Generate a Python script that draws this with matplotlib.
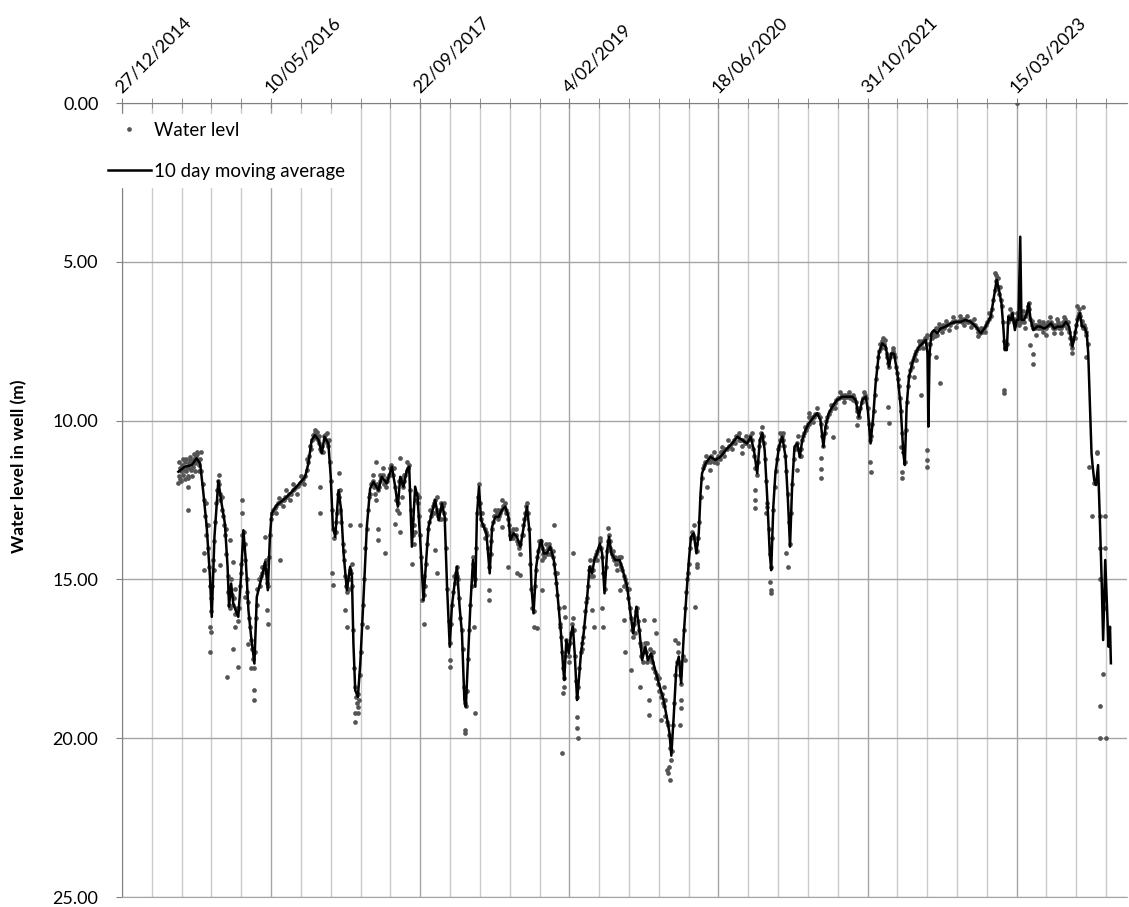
import matplotlib
matplotlib.use("Agg")
import matplotlib.pyplot as plt
from matplotlib.lines import Line2D
import numpy as np

plt.rcParams['font.family'] = ['Lato', 'DejaVu Sans']

# day offsets are counted from the first tick date, 27/12/2014
start = np.datetime64("2014-12-27")

tick_labels = ["27/12/2014", "10/05/2016", "22/09/2017", "4/02/2019",
               "18/06/2020", "31/10/2021", "15/03/2023"]
ytick_values = [0, 5, 10, 15, 20, 25]
ytick_labels = ["0.00", "5.00", "10.00", "15.00", "20.00", "25.00"]

# (day, water level in m) - daily readings
wl_2015 = [
    (190, 11.75), (193, 11.5), (196, 11.85), (199, 11.6), (202, 11.4), (205, 11.7), (208, 11.55), (211, 11.3),
    (214, 11.6), (217, 11.45), (220, 11.75), (223, 11.35), (226, 11.5), (229, 11.25), (232, 11.55), (235, 11.3),
    (238, 11.45), (241, 11.2), (244, 11.35), (247, 11.1), (250, 11.3), (253, 11.05), (256, 11.25), (259, 11.4),
    (262, 11.2), (265, 11.6), (270, 12.0), (274, 12.5), (278, 13.0), (281, 13.6), (285, 13.3), (288, 14.0),
    (291, 14.6), (294, 15.2), (297, 15.6), (300, 16.0), (303, 15.2), (306, 14.4), (309, 13.8), (312, 13.2),
    (315, 12.6), (318, 12.2), (321, 11.9), (324, 12.0), (327, 12.3), (330, 12.5), (334, 12.8), (338, 13.0),
    (342, 13.3), (346, 13.6), (350, 14.2), (354, 14.9), (357, 15.4), (360, 15.8), (363, 15.4), (366, 15.0),
    (369, 15.5), (372, 15.8), (376, 15.6), (380, 16.1), (384, 15.9), (388, 16.3), (392, 15.9), (396, 15.2),
]
wl_2016 = [
    (400, 14.5), (404, 13.6), (408, 13.5), (411, 13.9), (414, 14.4), (418, 15.0), (421, 15.7), (425, 16.2),
    (429, 16.5), (432, 16.9), (436, 17.2), (440, 17.5), (444, 17.8), (447, 17.3), (450, 16.2), (454, 15.3),
    (458, 15.0), (462, 15.2), (466, 14.9), (470, 14.8), (474, 14.6), (478, 14.5), (482, 14.7), (486, 15.1),
    (490, 15.2), (493, 14.3), (496, 13.6), (499, 13.1), (503, 12.9), (507, 12.8), (512, 12.75), (518, 12.7),
    (524, 12.6), (530, 12.6), (536, 12.5), (542, 12.5), (548, 12.4), (554, 12.4), (560, 12.3), (566, 12.3),
    (572, 12.2), (578, 12.15), (584, 12.1), (590, 12.05), (596, 11.95), (602, 11.9), (608, 11.85), (614, 11.75),
    (619, 11.55), (624, 11.3), (628, 11.1), (632, 10.8), (636, 10.6), (640, 10.45), (644, 10.55), (648, 10.4),
    (652, 10.5), (656, 10.6), (660, 10.7), (664, 10.9), (668, 10.95), (672, 10.8), (676, 10.5), (680, 10.45),
    (684, 10.6), (688, 10.7), (692, 10.8), (696, 11.3), (700, 11.9), (704, 12.8), (708, 13.4), (712, 13.7),
    (716, 13.5), (720, 12.9), (724, 12.3), (728, 12.4), (732, 12.8), (736, 13.2), (740, 13.9), (744, 14.4),
    (748, 14.9), (752, 15.2), (756, 15.4), (760, 15.0), (764, 14.7), (768, 14.8), (772, 15.2), (776, 16.6),
    (779, 17.8), (782, 18.4), (785, 18.7), (788, 18.9), (791, 18.6), (794, 18.8), (797, 18.0), (800, 17.3),
    (804, 16.4), (808, 15.8), (812, 15.0), (816, 14.0), (820, 13.4),
]
wl_2017 = [
    (826, 12.8), (830, 12.3), (834, 12.0), (838, 11.95), (842, 11.9), (846, 12.1), (850, 12.3), (854, 12.0),
    (858, 12.2), (862, 12.1), (866, 11.9), (870, 11.8), (874, 11.7), (878, 12.0), (882, 11.9), (886, 12.1),
    (890, 11.9), (894, 11.7), (898, 11.5), (902, 11.4), (906, 11.5), (910, 11.7), (914, 12.1), (918, 12.5),
    (922, 12.8), (926, 12.6), (930, 11.9), (934, 11.8), (938, 12.0), (942, 12.1), (946, 11.9), (950, 11.7),
    (954, 11.6), (958, 11.5), (962, 11.4), (966, 12.2), (969, 12.8), (972, 13.1), (975, 13.6), (978, 13.9),
    (981, 13.5), (985, 12.5), (989, 12.3), (993, 12.6), (997, 13.0), (1000, 13.6), (1004, 14.3), (1008, 15.0),
    (1011, 15.5), (1015, 15.2), (1019, 14.5), (1023, 13.9), (1027, 13.4), (1031, 13.2), (1035, 13.0), (1039, 12.9),
    (1043, 12.7), (1047, 12.6), (1051, 12.5), (1055, 12.8), (1059, 13.0), (1063, 13.1), (1067, 12.8), (1071, 12.6),
    (1075, 12.7), (1079, 12.9), (1083, 13.1), (1087, 14.0), (1091, 15.3), (1095, 16.3), (1099, 17.0), (1103, 16.4),
    (1107, 15.8), (1111, 15.4), (1115, 15.1), (1119, 14.8), (1123, 14.6), (1127, 15.0), (1131, 15.6), (1135, 16.2),
    (1139, 16.6), (1143, 17.2), (1147, 18.4), (1150, 18.9), (1153, 19.0), (1156, 18.5), (1160, 17.5), (1164, 16.6),
    (1168, 15.8), (1172, 15.2), (1176, 14.5), (1180, 14.6), (1184, 15.0), (1188, 14.0), (1191, 12.9), (1194, 12.4),
    (1197, 12.0), (1200, 12.6),
]
wl_2018 = [
    (1204, 13.1), (1208, 13.3), (1212, 13.3), (1216, 13.4), (1220, 13.5), (1224, 13.6), (1228, 14.0), (1232, 14.6),
    (1236, 14.2), (1240, 13.4), (1244, 13.2), (1248, 13.0), (1252, 13.0), (1256, 12.9), (1260, 13.1), (1264, 13.0),
    (1268, 12.9), (1272, 12.8), (1276, 12.7), (1280, 12.7), (1284, 12.6), (1288, 12.8), (1292, 12.9), (1296, 13.1),
    (1300, 13.6), (1304, 13.7), (1308, 13.5), (1312, 13.4), (1316, 13.6), (1320, 13.6), (1324, 13.8), (1328, 13.9),
    (1332, 14.0), (1336, 13.9), (1340, 13.6), (1344, 13.3), (1348, 13.1), (1352, 12.9), (1356, 12.7), (1360, 12.9),
    (1364, 13.4), (1368, 14.5), (1372, 15.3), (1376, 15.9), (1380, 16.0), (1384, 15.2), (1388, 14.7), (1392, 14.3),
    (1396, 14.1), (1400, 13.9), (1404, 13.8), (1408, 14.0), (1412, 14.2), (1416, 14.3), (1420, 14.1), (1424, 14.2),
    (1428, 14.0), (1432, 13.9), (1436, 14.0), (1440, 14.2), (1444, 14.3), (1448, 14.5), (1452, 14.8), (1456, 15.1),
    (1460, 15.5), (1464, 15.9), (1468, 16.4), (1472, 16.8), (1476, 17.3), (1480, 17.8), (1483, 18.1), (1486, 17.4),
    (1490, 16.9), (1494, 17.1), (1498, 17.4), (1502, 17.0), (1506, 16.7), (1510, 16.4), (1514, 16.6), (1518, 17.4),
    (1522, 18.2), (1526, 18.7), (1530, 18.4),
]
wl_2019 = [
    (1534, 17.8), (1538, 17.3), (1542, 17.0), (1546, 16.8), (1550, 16.5), (1554, 16.0), (1558, 15.6), (1562, 15.2),
    (1566, 14.7), (1570, 14.6), (1574, 14.9), (1578, 14.7), (1582, 14.4), (1586, 14.3), (1590, 14.2), (1594, 14.1),
    (1598, 14.0), (1602, 13.8), (1606, 14.0), (1610, 14.3), (1614, 14.8), (1618, 15.3), (1622, 14.6), (1626, 14.1),
    (1630, 13.8), (1634, 13.6), (1638, 14.0), (1642, 14.2), (1646, 14.3), (1650, 14.4), (1654, 14.3), (1658, 14.5),
    (1662, 14.4), (1666, 14.3), (1670, 14.5), (1674, 14.6), (1678, 14.7), (1682, 14.9), (1686, 15.0), (1690, 15.1),
    (1694, 15.3), (1698, 15.6), (1702, 15.9), (1706, 16.2), (1710, 16.6), (1714, 16.8), (1718, 16.4), (1722, 16.0),
    (1726, 15.9), (1730, 16.3), (1734, 16.6), (1738, 17.0), (1742, 17.4), (1746, 17.6), (1750, 17.2), (1754, 17.0),
    (1758, 17.3), (1762, 17.6), (1766, 17.5), (1770, 17.2), (1774, 17.4), (1778, 17.6), (1782, 17.8), (1786, 17.9),
    (1790, 18.1), (1794, 18.0), (1798, 18.3), (1802, 18.5), (1806, 18.7), (1810, 18.6), (1814, 18.9), (1818, 19.0),
    (1822, 19.3), (1826, 19.5), (1830, 19.6), (1834, 19.9), (1838, 20.3), (1841, 20.7), (1844, 20.4), (1848, 19.6),
    (1852, 18.9), (1856, 18.0), (1860, 17.6), (1864, 17.3), (1868, 17.6), (1872, 18.0), (1876, 18.3), (1880, 17.4),
    (1884, 16.6), (1888, 15.9), (1892, 15.4), (1896, 15.0), (1900, 14.5), (1904, 14.0), (1908, 13.7), (1912, 13.5),
    (1916, 13.6), (1920, 13.7), (1924, 13.9), (1928, 14.1), (1932, 13.7), (1936, 13.2), (1940, 12.4), (1944, 11.8),
    (1948, 11.5), (1952, 11.4), (1956, 11.3),
]
wl_2020 = [
    (1962, 11.3), (1968, 11.2), (1974, 11.1), (1980, 11.2), (1986, 11.3), (1992, 11.2), (1998, 11.1), (2004, 11.2),
    (2010, 11.0), (2016, 11.0), (2022, 10.9), (2028, 10.9), (2034, 10.8), (2040, 10.8), (2046, 10.7), (2052, 10.6),
    (2058, 10.5), (2064, 10.5), (2070, 10.6), (2076, 10.6), (2082, 10.6), (2088, 10.7), (2094, 10.7), (2100, 10.6),
    (2106, 10.5), (2112, 10.6), (2116, 10.9), (2120, 11.1), (2124, 11.5), (2128, 11.7), (2132, 11.3), (2136, 10.8),
    (2140, 10.6), (2144, 10.4), (2148, 10.5), (2152, 10.7), (2156, 11.2), (2160, 11.9), (2164, 12.6), (2168, 13.4),
    (2172, 14.2), (2176, 14.6), (2180, 13.7), (2184, 12.8), (2188, 12.1), (2192, 11.6), (2196, 11.2), (2200, 10.9),
    (2204, 10.8), (2208, 10.6), (2212, 10.5), (2216, 10.6), (2220, 10.8), (2224, 11.1), (2228, 11.6), (2232, 12.3),
    (2236, 13.2), (2240, 13.9), (2244, 12.9), (2248, 12.0), (2252, 11.2), (2256, 10.9), (2260, 10.8), (2264, 10.7),
    (2268, 10.9), (2272, 11.1), (2276, 10.9), (2280, 10.6), (2284, 10.5), (2288, 10.4), (2292, 10.3), (2296, 10.2),
    (2300, 10.1), (2305, 10.1), (2310, 10.0), (2315, 9.9), (2320, 9.9), (2325, 9.8), (2330, 9.8), (2335, 9.8),
    (2340, 9.9), (2344, 10.1), (2348, 10.5), (2352, 10.8), (2356, 10.4), (2360, 10.2),
]
wl_2021 = [
    (2365, 9.9), (2370, 9.8), (2375, 9.7), (2380, 9.6), (2385, 9.5), (2390, 9.45), (2395, 9.35), (2400, 9.3),
    (2405, 9.3), (2410, 9.25), (2415, 9.2), (2420, 9.3), (2425, 9.2), (2430, 9.25), (2435, 9.2), (2440, 9.3),
    (2445, 9.25), (2450, 9.2), (2455, 9.3), (2460, 9.4), (2464, 9.6), (2468, 9.9), (2472, 9.9), (2476, 9.6),
    (2480, 9.4), (2485, 9.3), (2490, 9.2), (2495, 9.3), (2500, 9.6), (2504, 10.1), (2508, 10.6), (2512, 10.5),
    (2516, 10.1), (2520, 9.7), (2524, 9.2), (2528, 8.7), (2532, 8.3), (2536, 8.0), (2540, 7.8), (2544, 7.7),
    (2548, 7.5), (2552, 7.6), (2556, 7.6), (2560, 7.7), (2564, 7.9), (2568, 8.2), (2572, 8.3), (2576, 8.0),
    (2580, 7.9), (2584, 7.8), (2588, 7.9), (2592, 8.0), (2596, 8.3), (2600, 8.5), (2604, 8.9), (2608, 9.3),
    (2612, 9.7), (2616, 10.4), (2620, 11.0), (2624, 11.3), (2628, 10.3), (2632, 9.4), (2636, 8.9), (2640, 8.6),
    (2644, 8.4), (2648, 8.3), (2652, 8.1), (2656, 8.0), (2660, 7.9), (2664, 7.8), (2668, 7.7), (2672, 7.7),
    (2676, 7.6), (2680, 7.6), (2684, 7.5), (2688, 7.5), (2692, 7.4), (2696, 7.4), (2700, 7.6), (2706, 7.9),
    (2710, 7.6), (2714, 7.3), (2718, 7.2),
]
wl_2022 = [
    (2722, 7.2), (2728, 7.1), (2734, 7.3), (2740, 7.1), (2746, 7.1), (2752, 7.0), (2758, 7.1), (2764, 7.0),
    (2770, 6.95), (2776, 7.0), (2782, 6.9), (2788, 6.9), (2794, 6.85), (2800, 6.9), (2806, 6.85), (2812, 6.8),
    (2818, 6.9), (2824, 6.8), (2830, 6.85), (2836, 6.9), (2842, 6.85), (2848, 6.9), (2854, 6.95), (2860, 7.0),
    (2866, 7.1), (2872, 7.2), (2878, 7.25), (2884, 7.2), (2890, 7.1), (2896, 7.0), (2902, 6.9), (2908, 6.8),
    (2914, 6.7), (2918, 6.5), (2922, 6.2), (2926, 5.9), (2930, 5.6), (2934, 5.5), (2938, 5.8), (2942, 6.0),
    (2946, 6.2), (2950, 6.4), (2954, 6.9), (2958, 7.5), (2962, 7.7), (2966, 7.6), (2970, 6.9), (2974, 6.7),
    (2978, 6.8), (2982, 6.7), (2986, 6.6), (2990, 6.9), (2994, 7.0), (2998, 6.8), (3002, 6.9), (3006, 6.7),
    (3010, 6.8),
]
wl_2023 = [
    (3014, 6.9), (3018, 6.8), (3022, 6.7), (3026, 6.9), (3030, 6.7), (3034, 6.6), (3038, 6.4), (3042, 6.5),
    (3046, 6.8), (3050, 7.0), (3054, 7.1), (3058, 7.0), (3062, 7.1), (3066, 7.0), (3070, 7.1), (3074, 7.0),
    (3078, 7.1), (3082, 7.0), (3086, 7.1), (3090, 7.2), (3094, 7.0), (3098, 7.1), (3102, 7.0), (3106, 6.9),
    (3110, 7.0), (3114, 6.9), (3118, 7.0), (3122, 7.1), (3126, 7.0), (3130, 7.1), (3134, 7.0), (3138, 6.9),
    (3142, 7.1), (3146, 7.0), (3150, 7.1), (3154, 6.9), (3158, 7.0), (3162, 6.8), (3166, 6.9), (3170, 7.1),
    (3174, 7.2), (3178, 7.4), (3182, 7.6), (3186, 7.7), (3190, 7.4), (3194, 7.2), (3198, 7.0), (3202, 6.8),
    (3206, 6.7), (3210, 6.6), (3214, 6.7), (3218, 7.0), (3222, 7.1), (3226, 7.0), (3230, 7.1), (3234, 7.3),
    (3238, 7.6),
]
# readings scattered either side of the trend
wl_spread = [
    (192, 11.3), (198, 11.9), (204, 11.2), (210, 11.85), (216, 11.2), (222, 11.8), (228, 11.15), (234, 11.75),
    (240, 11.05), (246, 11.6), (252, 11.0), (258, 11.6), (264, 11.0), (280, 12.6), (290, 13.3), (308, 14.7),
    (326, 11.7), (336, 12.4), (348, 13.4), (362, 15.9), (378, 15.3), (398, 14.8), (420, 15.4), (452, 15.8),
    (468, 14.6), (484, 14.4), (515, 12.9), (527, 12.45), (539, 12.7), (551, 12.2), (563, 12.5), (575, 12.0),
    (587, 12.3), (599, 11.75), (611, 12.0), (622, 11.2), (634, 10.9), (646, 10.3), (654, 10.35), (662, 10.5),
    (674, 11.0), (686, 10.4), (694, 10.6), (718, 13.2), (730, 12.2), (746, 14.1), (762, 15.3), (770, 14.5),
    (828, 12.4), (840, 11.7), (852, 12.5), (864, 11.7), (876, 11.5), (888, 11.8), (900, 11.7), (912, 11.5),
    (928, 12.9), (944, 11.7), (956, 11.3), (980, 13.3), (995, 12.4), (1013, 14.9), (1033, 12.8), (1045, 12.9),
    (1057, 12.4), (1069, 13.1), (1081, 12.6), (1113, 14.9), (1125, 14.9), (1178, 14.3), (1206, 12.9),
    (1218, 13.7), (1238, 13.8), (1250, 12.8), (1262, 12.8), (1274, 12.5), (1286, 12.9), (1298, 13.3),
    (1310, 13.7), (1322, 13.4), (1334, 14.2), (1346, 13.6), (1358, 12.6), (1398, 13.8), (1410, 14.4),
    (1422, 13.9), (1434, 14.2), (1446, 14.1), (1458, 14.8), (1470, 16.5), (1500, 17.6), (1512, 16.2),
    (1544, 17.2), (1556, 15.7), (1568, 14.4), (1580, 14.9), (1592, 14.4), (1604, 13.7), (1636, 13.8),
    (1648, 14.1), (1660, 14.7), (1672, 14.3), (1684, 15.2), (1700, 15.3), (1720, 16.7), (1740, 17.1),
    (1760, 17.0), (1780, 17.3), (1800, 18.1), (1820, 18.8), (1864, 17.0), (1898, 14.8), (1918, 13.3),
    (1958, 11.1), (1971, 11.3), (1984, 11.0), (1996, 11.35), (2008, 11.0), (2020, 11.1), (2032, 10.6),
    (2044, 10.9), (2056, 10.7), (2068, 10.4), (2080, 10.8), (2092, 10.5), (2104, 10.8), (2114, 10.4),
    (2146, 10.2), (2206, 10.4), (2218, 10.4), (2266, 10.5), (2278, 11.1), (2290, 10.2), (2302, 9.9),
    (2318, 10.05), (2332, 9.6), (2362, 10.0), (2378, 9.5), (2392, 9.6), (2408, 9.1), (2422, 9.4),
    (2438, 9.1), (2452, 9.35), (2466, 9.7), (2488, 9.1), (2542, 7.6), (2558, 7.45), (2566, 8.0), (2586, 7.7),
    (2602, 8.7), (2646, 8.2), (2662, 8.1), (2674, 7.5), (2686, 7.7), (2698, 7.3), (2716, 7.4), (2726, 7.35),
    (2738, 6.95), (2750, 7.2), (2762, 6.85), (2774, 7.15), (2786, 6.75), (2798, 7.05), (2810, 6.7),
    (2822, 7.0), (2834, 6.7), (2846, 7.05), (2858, 6.8), (2870, 7.35), (2882, 7.1), (2894, 7.2), (2906, 6.6),
    (2932, 5.4), (2944, 5.8), (2976, 6.5), (2988, 6.8), (3000, 6.6), (3008, 7.0), (3020, 6.55), (3028, 7.1),
    (3040, 6.3), (3052, 6.85), (3064, 7.3), (3076, 6.85), (3088, 6.9), (3100, 7.3), (3112, 6.75), (3124, 7.25),
    (3136, 6.8), (3148, 7.25), (3160, 6.75), (3172, 6.9), (3184, 7.5), (3196, 7.4), (3208, 6.5), (3220, 6.85),
    (3232, 7.2),
]
# readings away from the main trend
wl_outliers = [
    (189, 11.98), (222, 12.08), (220, 12.8), (295, 17.28), (295, 16.49), (298, 16.65), (276, 14.18), (276, 14.71),
    (351, 18.07), (329, 14.55), (362, 13.77), (373, 14.45), (373, 17.18), (379, 16.49), (390, 17.75), (404, 12.5),
    (404, 12.92), (413, 15.55), (424, 17.02), (433, 17.8), (441, 18.49), (441, 18.8), (480, 13.66), (486, 15.97),
    (489, 16.39), (530, 14.39), (664, 12.08), (664, 12.9), (703, 14.81), (707, 15.18), (726, 11.66), (765, 13.29),
    (748, 15.97), (754, 16.49), (791, 19.01), (780, 19.22), (782, 19.48), (793, 19.22), (821, 16.49), (799, 13.29),
    (857, 13.4), (857, 13.77), (882, 14.18), (933, 13.5), (916, 13.24), (938, 12.4), (974, 14.5), (852, 11.3),
    (933, 11.19), (1011, 16.39), (1006, 15.65), (1056, 14.81), (1050, 14.07), (1099, 17.75), (1099, 17.54),
    (1149, 19.74), (1149, 19.85), (1185, 19.22), (1179, 16.49), (1229, 15.65), (1229, 15.33), (1296, 14.6),
    (1324, 14.81), (1336, 14.86), (1274, 13.34), (1380, 16.49), (1392, 16.54), (1448, 13.29), (1408, 15.33),
    (1512, 14.18), (1476, 20.48), (1479, 18.59), (1483, 18.38), (1526, 19.32), (1526, 19.69), (1529, 19.98),
    (1481, 15.86), (1487, 16.17), (1576, 15.96), (1584, 16.49), (1610, 15.91), (1613, 16.49), (1629, 13.39),
    (1671, 15.33), (1682, 16.28), (1688, 17.28), (1707, 17.85), (1736, 18.38), (1750, 16.28), (1766, 18.8),
    (1766, 19.27), (1783, 16.28), (1789, 16.7), (1817, 18.38), (1806, 19.43), (1828, 21.0), (1856, 16.91),
    (1834, 20.9), (1837, 21.32), (1830, 21.11), (1870, 19.59), (1873, 18.8), (1873, 19.06), (1889, 17.54),
    (1920, 15.86), (1929, 14.5), (1929, 14.6), (1960, 12.08), (1973, 11.56), (2012, 10.82), (2080, 11.03),
    (2121, 12.19), (2124, 12.5), (2124, 12.76), (2164, 12.71), (2158, 12.92), (2172, 15.07), (2175, 15.33),
    (2175, 15.44), (2228, 14.18), (2233, 14.6), (2264, 11.56), (2345, 11.19), (2345, 11.51), (2345, 11.82),
    (2385, 10.51), (2304, 9.77), (2466, 10.14), (2508, 11.29), (2510, 11.61), (2569, 9.56), (2572, 10.09),
    (2553, 7.41), (2613, 10.82), (2617, 11.61), (2617, 11.82), (2656, 8.62), (2678, 9.19), (2698, 10.93),
    (2701, 11.45), (2698, 11.24), (2729, 7.99), (2743, 8.81), (2928, 5.36), (2936, 5.52), (2958, 9.04),
    (2958, 9.14), (3000, 0.0), (3045, 7.62), (3056, 7.9), (3056, 8.22), (3187, 7.88), (3204, 6.39), (3221, 6.41),
    (3232, 7.99), (3242, 11.46), (3254, 13.0), (3260, 11.98), (3269, 11.0), (3271, 11.03), (3280, 13.0),
    (3280, 14.0), (3280, 15.0), (3296, 13.0), (3296, 14.0), (3296, 15.9), (3289, 17.98), (3280, 19.0),
    (3280, 20.0), (3301, 20.0),
]

# (day, level) - 10 day moving average
ma_2015_2017 = [
    (189, 11.61), (211, 11.45), (234, 11.4), (250, 11.19), (262, 11.35), (273, 12.29), (284, 13.34), (295, 14.92),
    (301, 16.18), (310, 13.66), (323, 11.9), (334, 12.61), (345, 13.24), (354, 14.6), (359, 15.86), (366, 15.13),
    (373, 15.76), (381, 15.97), (390, 16.18), (399, 14.92), (407, 13.45), (415, 14.39), (424, 15.97), (433, 16.81),
    (444, 17.65), (452, 15.55), (463, 15.13), (474, 14.71), (480, 14.45), (489, 15.34), (496, 13.66), (502, 12.92),
    (519, 12.66), (547, 12.45), (580, 12.14), (614, 11.77), (625, 11.35), (636, 10.61), (647, 10.46), (659, 10.61),
    (670, 11.03), (679, 10.51), (692, 10.72), (700, 11.77), (707, 13.34), (715, 13.66), (726, 12.19), (735, 12.82),
    (743, 14.18), (754, 15.34), (765, 14.6), (771, 14.92), (776, 17.02), (782, 18.49), (791, 18.7), (799, 17.65),
    (810, 15.55), (821, 13.34), (832, 12.14), (843, 11.93), (860, 12.19), (871, 11.77), (888, 11.98), (905, 11.45),
    (916, 12.08), (925, 12.71), (933, 11.77), (944, 12.08), (955, 11.56), (963, 11.45), (972, 13.97), (983, 12.08),
    (991, 12.4), (1000, 13.76), (1011, 15.65), (1020, 14.39), (1028, 13.34), (1039, 12.92), (1050, 12.5),
    (1062, 13.13), (1073, 12.61), (1082, 13.03), (1090, 15.23), (1099, 17.12), (1106, 15.86), (1114, 15.23),
    (1123, 14.6), (1132, 15.86), (1140, 16.7), (1148, 18.8), (1153, 19.01), (1159, 17.75), (1168, 15.86),
    (1177, 14.39), (1185, 15.23), (1190, 13.03), (1197, 12.08),
]
ma_2018_2020 = [
    (1204, 13.13), (1213, 13.34), (1222, 13.55), (1233, 14.81), (1241, 13.34), (1252, 13.03), (1263, 13.03),
    (1274, 12.82), (1285, 12.71), (1296, 13.03), (1302, 13.76), (1313, 13.55), (1324, 13.66), (1336, 13.97),
    (1347, 13.34), (1358, 12.71), (1367, 13.55), (1373, 15.23), (1380, 16.07), (1389, 14.6), (1397, 14.07),
    (1406, 13.76), (1414, 14.18), (1425, 14.18), (1436, 13.97), (1448, 14.39), (1456, 15.02), (1464, 15.86),
    (1472, 16.7), (1479, 17.75), (1483, 18.17), (1490, 16.91), (1498, 17.33), (1506, 16.7), (1512, 16.49),
    (1518, 17.33), (1526, 18.8), (1531, 18.27), (1539, 17.33), (1548, 16.7), (1559, 15.65), (1568, 14.6),
    (1576, 14.81), (1584, 14.39), (1593, 14.18), (1602, 13.87), (1610, 14.18), (1618, 15.44), (1627, 14.07),
    (1633, 13.66), (1641, 14.18), (1654, 14.39), (1669, 14.39), (1682, 14.81), (1694, 15.23), (1705, 16.07),
    (1714, 16.7), (1725, 15.86), (1736, 16.7), (1744, 17.54), (1755, 17.12), (1763, 17.54), (1774, 17.33),
    (1785, 17.75), (1800, 18.27), (1815, 18.75), (1828, 19.4), (1836, 19.85), (1842, 20.55), (1850, 19.32),
    (1859, 17.75), (1867, 17.43), (1875, 18.27), (1884, 16.7), (1893, 15.44), (1901, 14.39), (1908, 13.66),
    (1917, 13.55), (1926, 14.18), (1934, 13.55), (1940, 12.29), (1945, 11.66), (1957, 11.35), (1973, 11.14),
    (1990, 11.24), (2007, 11.14), (2024, 10.93), (2046, 10.72), (2063, 10.51), (2080, 10.61), (2096, 10.72),
    (2108, 10.51), (2119, 10.93), (2130, 11.66), (2139, 10.61), (2147, 10.4), (2155, 10.93), (2164, 12.5),
    (2172, 14.18), (2177, 14.71), (2184, 12.71), (2191, 11.66), (2203, 10.82), (2214, 10.51), (2225, 11.14),
    (2233, 12.5), (2240, 13.97), (2247, 12.08), (2255, 10.82), (2264, 10.72), (2273, 11.14), (2281, 10.61),
    (2292, 10.3), (2303, 10.09), (2320, 9.88), (2331, 9.77), (2342, 9.98), (2352, 10.82), (2359, 10.19),
]
ma_2021_2023 = [
    (2370, 9.77), (2382, 9.56), (2398, 9.35), (2415, 9.25), (2432, 9.25), (2449, 9.25), (2460, 9.35),
    (2471, 9.88), (2482, 9.35), (2494, 9.25), (2501, 9.67), (2510, 10.72), (2519, 9.88), (2527, 8.83),
    (2538, 7.88), (2549, 7.57), (2561, 7.67), (2572, 8.3), (2580, 7.88), (2589, 7.9), (2600, 8.51), (2611, 9.56),
    (2620, 11.03), (2625, 11.4), (2631, 9.56), (2639, 8.62), (2650, 8.2), (2661, 7.88), (2673, 7.67),
    (2684, 7.57), (2695, 7.46), (2701, 7.88), (2704, 10.19), (2708, 7.88), (2714, 7.25), (2723, 7.15),
    (2734, 7.25), (2745, 7.1), (2762, 7.04), (2779, 6.94), (2796, 6.89), (2812, 6.89), (2829, 6.83),
    (2846, 6.89), (2863, 7.04), (2880, 7.25), (2896, 7.04), (2913, 6.73), (2924, 6.1), (2933, 5.57),
    (2941, 5.89), (2949, 6.31), (2956, 7.15), (2960, 7.78), (2967, 7.78), (2972, 6.73), (2980, 6.83),
    (2986, 6.62), (2994, 7.15), (3000, 6.83), (3006, 6.83), (3012, 4.21), (3016, 6.83), (3025, 6.83),
    (3034, 6.62), (3040, 6.31), (3047, 6.83), (3056, 7.15), (3068, 7.04), (3079, 7.04), (3092, 7.1),
    (3103, 7.04), (3115, 6.94), (3126, 7.1), (3137, 7.04), (3154, 7.04), (3165, 6.89), (3176, 7.04),
    (3187, 7.67), (3196, 7.25), (3204, 6.83), (3212, 6.62), (3219, 7.04), (3226, 7.04), (3235, 7.25),
    (3240, 7.88), (3246, 9.56), (3251, 11.03), (3255, 11.45), (3260, 11.87), (3266, 12.03), (3273, 11.4),
    (3279, 13.13), (3285, 15.02), (3290, 16.91), (3294, 15.54), (3297, 14.39), (3303, 15.86), (3308, 17.12),
    (3313, 16.49), (3316, 17.64),
]


def to_series(*groups):
    pts = [p for g in groups for p in g]
    days = np.array([p[0] for p in pts])
    vals = np.array([p[1] for p in pts])
    return start + days.astype("timedelta64[D]"), vals


wl_t, wl_v = to_series(wl_2015, wl_2016, wl_2017, wl_2018, wl_2019, wl_2020,
                       wl_2021, wl_2022, wl_2023, wl_spread, wl_outliers)
ma_t, ma_v = to_series(ma_2015_2017, ma_2018_2020, ma_2021_2023)

fig = plt.figure(figsize=(11.29, 9.07), dpi=100)
ax = fig.add_axes([122 / 1129, 10 / 907, 1005 / 1129, 794 / 907])

ax.plot(wl_t, wl_v, ls='none', marker='o', ms=3.4, mew=0, color='#555555', zorder=3)
ax.plot(ma_t, ma_v, color='black', lw=1.8, zorder=4)

ax.set_ylim(25, 0)
ax.set_xlim(start, start + np.timedelta64(3370, "D"))

major = [start + np.timedelta64(500 * i, "D") for i in range(len(tick_labels))]
minor = [start + np.timedelta64(100 * i, "D") for i in range(34)]
ax.set_xticks(major, labels=tick_labels)
ax.set_xticks(minor, minor=True)
ax.set_yticks(ytick_values, labels=ytick_labels)

ax.xaxis.tick_top()
ax.tick_params(axis='x', which='both', direction='inout', length=7, color='#808080',
               top=True, bottom=False, labeltop=True, labelbottom=False, pad=3,
               labelsize=13)
for lab in ax.get_xticklabels():
    lab.set_rotation(45)
    lab.set_ha('left')
    lab.set_va('baseline')
    lab.set_rotation_mode('anchor')
ax.tick_params(axis='y', direction='out', length=4, color='#808080', pad=13, labelsize=13)

ax.grid(which='minor', axis='x', color='#cacaca', lw=1)
ax.grid(which='major', axis='x', color='#a5a5a5', lw=1)
ax.grid(which='major', axis='y', color='#a5a5a5', lw=1)
ax.set_axisbelow(True)

ax.spines['right'].set_visible(False)
ax.spines['top'].set_color('#808080')
ax.spines['left'].set_color('#808080')
ax.spines['bottom'].set_color('#a5a5a5')

fig.text(19 / 1129, 1 - 466 / 907, "Water level in well (m)", rotation=90,
         ha='center', va='center', fontsize=12.5, fontweight='bold')

handles = [Line2D([], [], ls='none', marker='o', ms=3.4, mew=0, color='#555555'),
           Line2D([], [], color='black', lw=1.8)]
fig.legend(handles, ["Water levl", "10 day moving average"], loc='upper left',
           bbox_to_anchor=(100 / 1129, 1 - 114 / 907), frameon=True, facecolor='white',
           edgecolor='white', framealpha=1, fancybox=False, borderpad=0.4,
           labelspacing=1.3, handlelength=2.3, handletextpad=0.2, fontsize=13.5,
           borderaxespad=0)

fig.savefig("out.png", dpi=100)
